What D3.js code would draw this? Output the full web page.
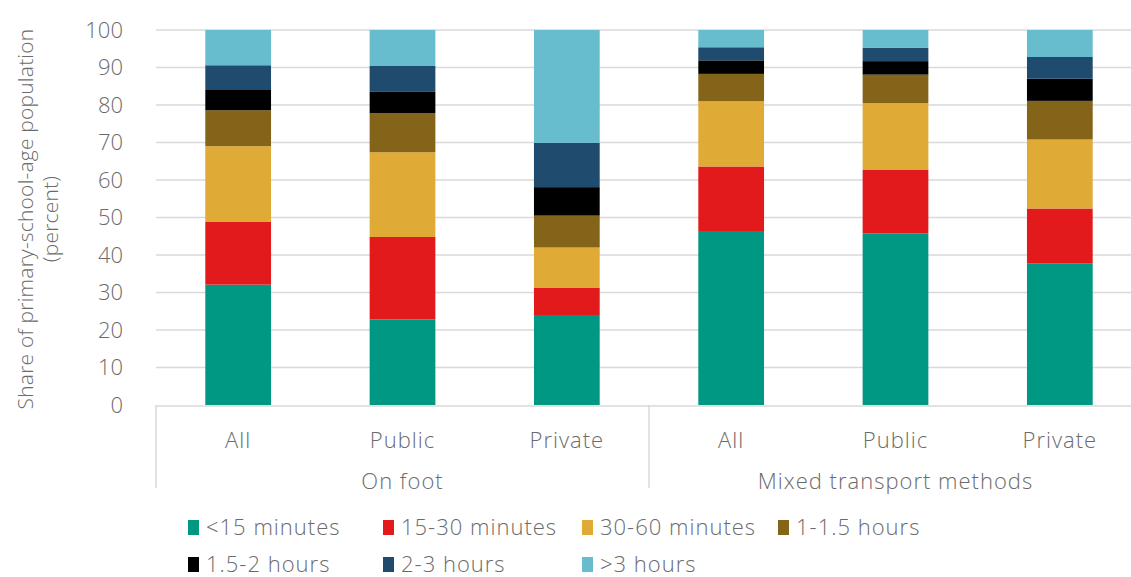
<!DOCTYPE html>
<html><head><meta charset="utf-8">
<script src="https://cdn.jsdelivr.net/npm/d3@7"></script>
<style>body{margin:0;background:#fff}svg{display:block}text{font-family:"Open Sans",Lato,sans-serif;fill:#6b6b6b;font-weight:300}</style>
</head><body><svg id="c" width="1131" height="577"></svg>
<script>
const categories = ["All","Public","Private","All","Public","Private"];
const groups = ["On foot","Mixed transport methods"];
const seriesNames = ["<15 minutes","15-30 minutes","30-60 minutes","1-1.5 hours","1.5-2 hours","2-3 hours",">3 hours"];
const colors = ["#009882","#e31a1c","#dfaa35","#846418","#000000","#1f4b6e","#67bccd"];
const lt15  = [32.1, 22.8, 24.0, 46.4, 45.7, 37.8];
const m15_30 = [16.7, 22.0, 7.2, 17.2, 17.1, 14.6];
const m30_60 = [20.2, 22.6, 10.8, 17.4, 17.7, 18.4];
const h1_15 = [9.6, 10.4, 8.5, 7.3, 7.6, 10.3];
const h15_2 = [5.4, 5.7, 7.6, 3.6, 3.6, 5.9];
const h2_3 = [6.6, 6.9, 11.8, 3.5, 3.6, 5.8];
const gt3 = [9.4, 9.6, 30.1, 4.6, 4.7, 7.2];
const yTicks = [0,10,20,30,40,50,60,70,80,90,100];

(function(){
const seriesVals = [lt15, m15_30, m30_60, h1_15, h15_2, h2_3, gt3];
const rows = categories.map((c,i)=>{const o={key:i}; seriesNames.forEach((s,j)=>o[s]=seriesVals[j][i]); return o;});
const stack = d3.stack().keys(seriesNames)(rows);
const FS = "21px", FL = "22px", LS = "1px";

const svg = d3.select("#c");
const pl = 156, pr = 1142, pt = 30, pb = 405;
const x = d3.scaleBand().domain(d3.range(categories.length)).range([pl,pr]).paddingInner(0.6).paddingOuter(0.3);
const y = d3.scaleLinear().domain([0,100]).range([pb, pt]);

svg.append("g").selectAll("line").data(yTicks.filter(t=>t>0)).join("line")
  .attr("x1", pl).attr("x2", 1131).attr("y1", d=>y(d)).attr("y2", d=>y(d))
  .attr("stroke","#d9d9d9").attr("stroke-width",1.5);

const ya = svg.append("g").attr("transform",`translate(${pl},0)`).call(d3.axisLeft(y).tickValues(yTicks).tickSize(0).tickPadding(33));
ya.select(".domain").remove();
ya.selectAll("text").style("font-size",FL).attr("fill",null).style("font-family",null);
ya.attr("font-family",null).attr("font-size",null);

svg.append("g").selectAll("g").data(stack).join("g").attr("fill",(d,i)=>colors[i])
  .selectAll("rect").data(d=>d).join("rect")
  .attr("x",(d,i)=>x(i)).attr("width",x.bandwidth())
  .attr("y",d=>y(d[1])).attr("height",d=>y(d[0])-y(d[1]));

svg.append("line").attr("x1",pl).attr("x2",1131).attr("y1",pb+1).attr("y2",pb+1).attr("stroke","#d9d9d9").attr("stroke-width",1.5);
const sepX = [pl, (x(2)+x.bandwidth()+x(3))/2];
svg.append("g").selectAll("line").data(sepX).join("line")
  .attr("x1",d=>d).attr("x2",d=>d).attr("y1",pb).attr("y2",488)
  .attr("stroke","#d9d9d9").attr("stroke-width",1.5);

svg.append("g").selectAll("text").data(categories).join("text")
  .attr("x",(d,i)=>x(i)+x.bandwidth()/2).attr("y",448).attr("text-anchor","middle")
  .style("font-size",FL).style("letter-spacing",LS).text(d=>d);
svg.append("g").selectAll("text").data(groups).join("text")
  .attr("x",(d,i)=>(x(i*3)+x(i*3+2)+x.bandwidth())/2).attr("y",489).attr("text-anchor","middle")
  .style("font-size",FL).style("letter-spacing",LS).text(d=>d);

const yt = svg.append("text").attr("transform","translate(33,219) rotate(-90)").attr("text-anchor","middle").style("font-size",FS).style("letter-spacing","0.2px");
yt.append("tspan").attr("x",0).attr("dy",0).text("Share of primary-school-age population");
yt.append("tspan").attr("x",0).attr("dy",25).text("(percent)");

const legX = [188, 383, 582, 778];
const lg = svg.append("g").selectAll("g").data(seriesNames).join("g")
  .attr("transform",(d,i)=>`translate(${legX[i%4]},${i<4?527:564})`);
lg.append("rect").attr("x",0).attr("y",-7).attr("width",11).attr("height",15).attr("fill",(d,i)=>colors[i]);
lg.append("text").attr("x",18).attr("y",7.5).style("font-size",FL).style("letter-spacing",LS).text(d=>d);
})();
</script></body></html>
